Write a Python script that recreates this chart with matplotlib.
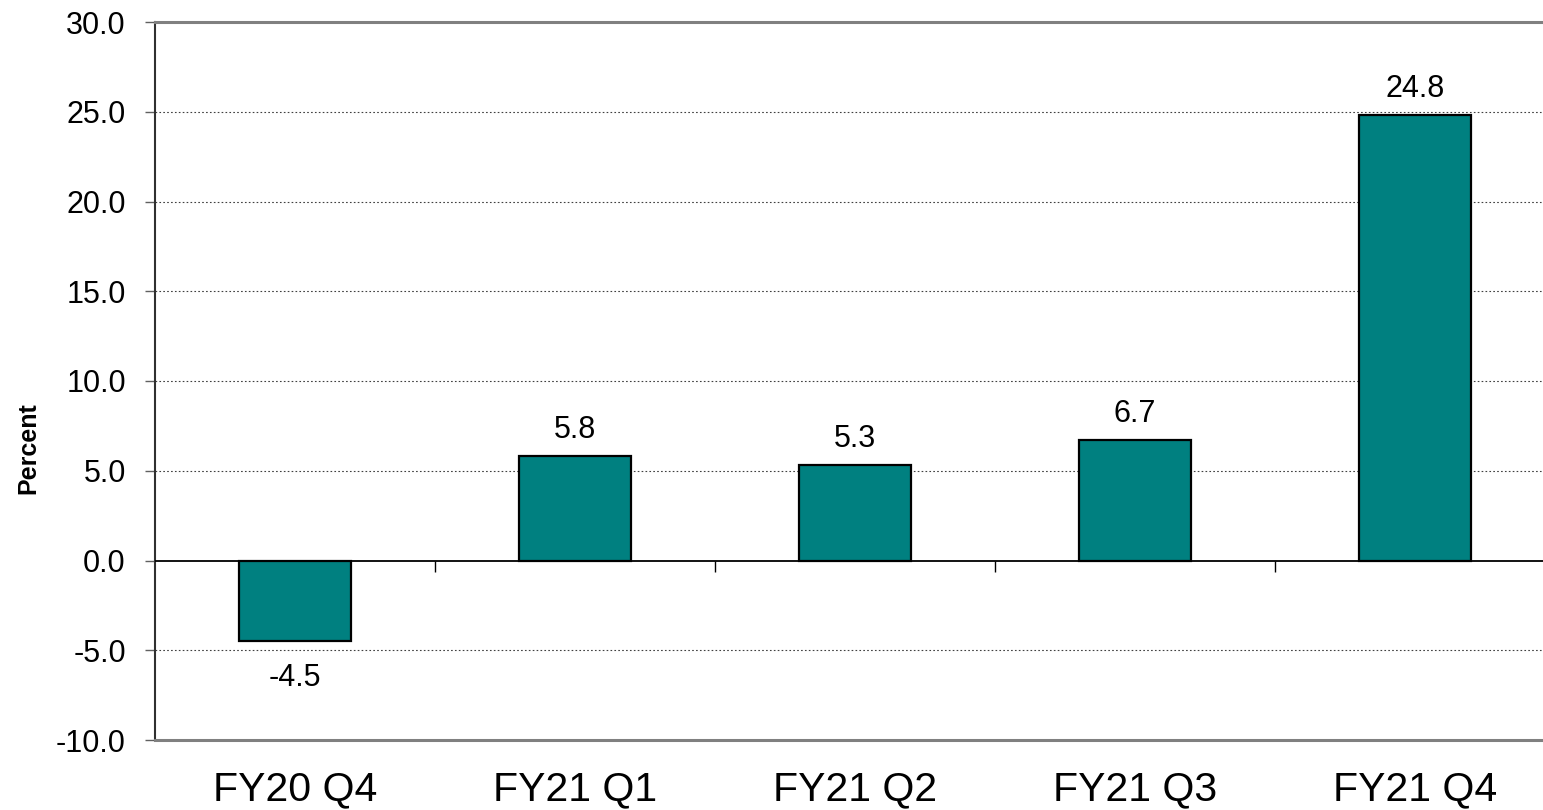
import matplotlib
matplotlib.use("Agg")
import matplotlib.pyplot as plt
import numpy as np

categories = ["FY20 Q4", "FY21 Q1", "FY21 Q2", "FY21 Q3", "FY21 Q4"]
values = [-4.5, 5.8, 5.3, 6.7, 24.8]
yticks = [-10, -5, 0, 5, 10, 15, 20, 25, 30]

plt.rcParams['font.family'] = ['Liberation Sans', 'DejaVu Sans']

fig = plt.figure(figsize=(15.43, 8.10), dpi=100)
ax = fig.add_axes([155/1543, 70/810, 1400/1543, 718/810])

x = np.arange(len(categories))
ax.bar(x, values, width=0.4, color="#008080", edgecolor="black", linewidth=1.6, zorder=3)

ax.set_xlim(-0.5, len(categories) - 0.5)
ax.set_ylim(-10, 30)
ax.set_yticks(yticks)
ax.set_yticklabels([f"{v:.1f}" for v in yticks], fontsize=22)
ax.set_xticks(x)
ax.set_xticklabels(categories, fontsize=29.5)
ax.tick_params(axis='x', length=0, pad=22)
ax.tick_params(axis='y', length=7, width=1, color="#606060", pad=14, direction='out')

# gridlines
for g in yticks:
    if g not in (-10, 0, 30):
        ax.axhline(g, color="#404040", linestyle=(0, (1.5, 2)), linewidth=0.8, zorder=1)
ax.axhline(0, color="black", linewidth=1.3, zorder=4)
# small ticks on zero line at category boundaries
bounds = np.arange(0.5, len(categories) - 0.5, 1.0)
ax.vlines(bounds, -0.65, 0, color="black", linewidth=1.0, zorder=4)

ax.spines["right"].set_visible(False)
ax.spines["left"].set_color("#303030")
ax.spines["left"].set_linewidth(1.5)
ax.spines["top"].set_color("#808080")
ax.spines["top"].set_linewidth(2.2)
ax.spines["bottom"].set_color("#808080")
ax.spines["bottom"].set_linewidth(2.2)

for xi, v in zip(x, values):
    if v >= 0:
        ax.annotate(f"{v:.1f}", (xi, v), xytext=(0, 13), textcoords="offset points",
                    ha="center", va="baseline", fontsize=22)
    else:
        ax.annotate(f"{v:.1f}", (xi, v), xytext=(0, -16), textcoords="offset points",
                    ha="center", va="top", fontsize=22)

ax.set_ylabel("Percent", fontsize=18, fontweight="bold")
ax.yaxis.set_label_coords((40 - 155) / 1400, 0.406)

fig.savefig("out.png", dpi=100)
